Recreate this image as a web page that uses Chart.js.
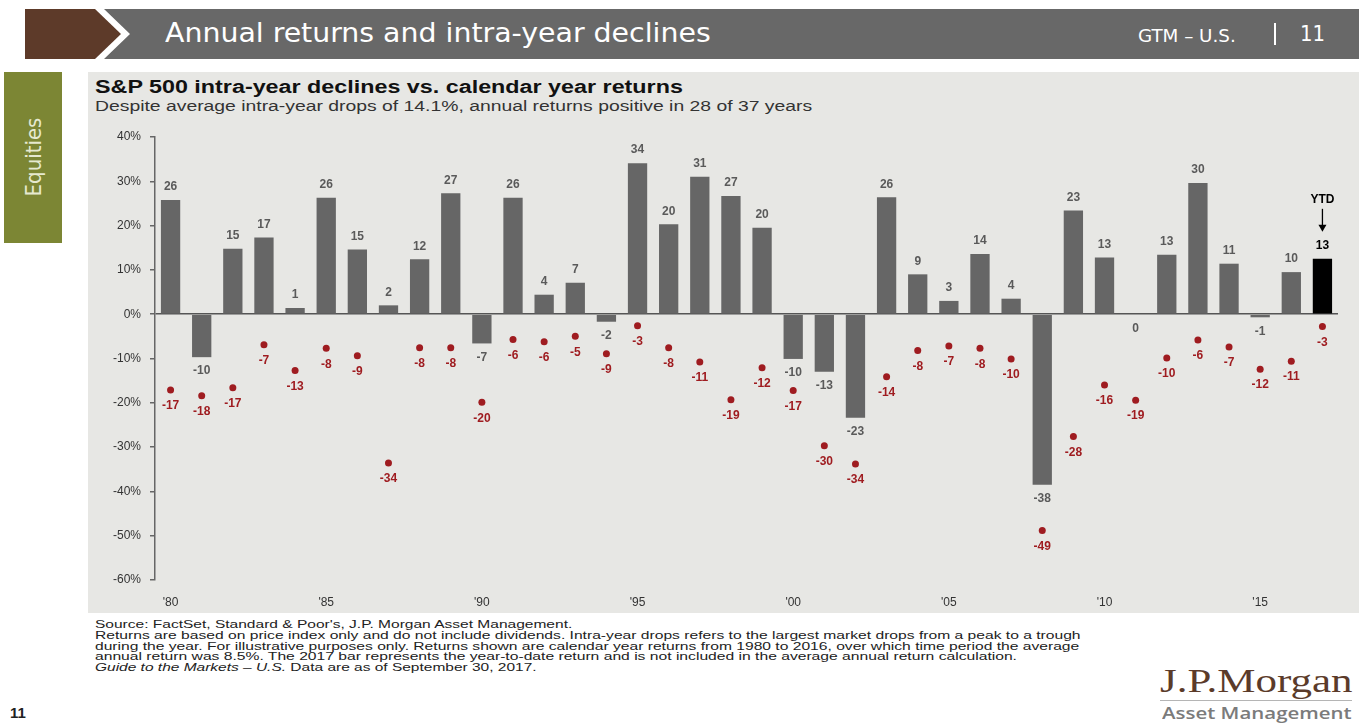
<!DOCTYPE html>
<html>
<head>
<meta charset="utf-8">
<script src="https://cdn.jsdelivr.net/npm/chart.js@4.4.1/dist/chart.umd.min.js"></script>
<style>
  body { margin: 0; width: 1359px; height: 723px; background: #fff; position: relative; overflow: hidden; font-family: "Liberation Sans", Arial, sans-serif; }
  .abs { position: absolute; white-space: nowrap; }
  .fit { display: inline-block; transform-origin: 0 50%; }
  #brown { left: 25px; top: 9px; width: 100px; height: 50px; background: #5d3a29; clip-path: polygon(0 0, 70px 0, 96px 25px, 70px 50px, 0 50px); }
  #band { left: 104px; top: 9px; width: 1255px; height: 50px; background: #686868; clip-path: polygon(0 0, 100% 0, 100% 100%, 0 100%, 26px 25px); }
  #panel { left: 88px; top: 72px; width: 1271px; height: 541px; background: #e7e7e4; }
  #tab { left: 4px; top: 72px; width: 58px; height: 171px; background: #7c8634; }
  #tabTxt { left: 33px; top: 157px; transform: translate(-50%, -50%) rotate(-90deg); color: #e6e9cf; font: 22px "Liberation Sans Narrow", "DejaVu Sans Condensed", sans-serif; }
  canvas { position: absolute; left: 88px; top: 120px; }
  .foot { font-size: 11px; color: #222; line-height: 11px; }
</style>
</head>
<body>
<div id="brown" class="abs"></div>
<div id="band" class="abs"></div>
<div class="abs" style="left:165px;top:18px;color:#fff;font:26px 'Liberation Sans Narrow','DejaVu Sans Condensed',sans-serif;line-height:30px;"><span class="fit" id="hdrTitle">Annual returns and intra-year declines</span></div>
<div class="abs" style="left:1138px;top:26px;color:#fff;font:17px 'Liberation Sans Narrow','DejaVu Sans Condensed',sans-serif;line-height:20px;"><span class="fit" id="hdrGtm">GTM – U.S.</span></div>
<div class="abs" style="left:1274px;top:23px;width:2px;height:22px;background:#fff;"></div>
<div class="abs" style="left:1300px;top:21px;color:#fff;font:21px 'Liberation Sans Narrow','DejaVu Sans Condensed',sans-serif;line-height:26px;"><span class="fit" id="hdrNum">11</span></div>

<div id="tab" class="abs"></div>
<div id="tabTxt" class="abs">Equities</div>
<div id="panel" class="abs"></div>

<div class="abs" style="left:95px;top:77px;font-weight:bold;font-size:18px;line-height:20px;color:#111;"><span class="fit" id="cTitle">S&amp;P 500 intra-year declines vs. calendar year returns</span></div>
<div class="abs" style="left:95px;top:98px;font-size:14px;line-height:16px;color:#333;"><span class="fit" id="cSub">Despite average intra-year drops of 14.1%, annual returns positive in 28 of 37 years</span></div>

<canvas id="myChart" width="1271" height="492"></canvas>

<div class="abs foot" style="left:95px;top:619px;"><span class="fit" id="f1">Source: FactSet, Standard &amp; Poor's, J.P. Morgan Asset Management.</span></div>
<div class="abs foot" style="left:95px;top:630px;"><span class="fit" id="f2">Returns are based on price index only and do not include dividends. Intra-year drops refers to the largest market drops from a peak to a trough</span></div>
<div class="abs foot" style="left:95px;top:641px;"><span class="fit" id="f3">during the year. For illustrative purposes only. Returns shown are calendar year returns from 1980 to 2016, over which time period the average</span></div>
<div class="abs foot" style="left:95px;top:651px;"><span class="fit" id="f4">annual return was 8.5%. The 2017 bar represents the year-to-date return and is not included in the average annual return calculation.</span></div>
<div class="abs foot" style="left:95px;top:662px;"><span class="fit" id="f5"><i>Guide to the Markets – U.S.</i> Data are as of September 30, 2017.</span></div>

<div class="abs" style="left:10px;top:704px;font-size:15px;font-weight:bold;color:#222;line-height:17px;">11</div>

<div class="abs" style="left:1160px;top:664px;font:34px 'Liberation Serif','DejaVu Serif',serif;color:#5b3b2a;line-height:34px;"><span class="fit" id="logo1">J.P.Morgan</span></div>
<div class="abs" style="left:1160px;top:700px;width:192px;height:1px;background:#b5b5b5;"></div>
<div class="abs" style="left:1162px;top:703px;font:600 17px 'Open Sans',sans-serif;color:#7b7b7b;line-height:19px;"><span class="fit" id="logo2">Asset Management</span></div>

<script>
// fit header / footer texts to the widths in the reference
function fit(id, w) {
    let el = document.getElementById(id);
    el.style.transform = "scaleX(" + (w / el.offsetWidth) + ")";
}
fit("hdrTitle", 546);
fit("hdrGtm", 98);
fit("hdrNum", 25);
fit("cTitle", 588);
fit("cSub", 717);
fit("f1", 477);
fit("f2", 985);
fit("f3", 984);
fit("f4", 922);
fit("f5", 442);
fit("logo1", 192);
fit("logo2", 190);

// data
let years = [1980, 1981, 1982, 1983, 1984, 1985, 1986, 1987, 1988, 1989,
             1990, 1991, 1992, 1993, 1994, 1995, 1996, 1997, 1998, 1999,
             2000, 2001, 2002, 2003, 2004, 2005, 2006, 2007, 2008, 2009,
             2010, 2011, 2012, 2013, 2014, 2015, 2016, 2017];
let annualReturns = [25.8, -9.7, 14.8, 17.3, 1.4, 26.3, 14.6, 2.0, 12.4, 27.3,
                     -6.6, 26.3, 4.4, 7.1, -1.7, 34.1, 20.3, 31.0, 26.7, 19.5,
                     -10.1, -13.0, -23.4, 26.4, 9.0, 3.0, 13.6, 3.5, -38.5, 23.4,
                     12.8, 0.0, 13.4, 29.6, 11.4, -0.7, 9.5, 12.5];
let intraYearDrops = [-17.1, -18.4, -16.6, -6.9, -12.7, -7.7, -9.4, -33.6, -7.6, -7.6,
                      -19.9, -5.7, -6.2, -5.0, -8.9, -2.6, -7.6, -10.8, -19.3, -12.1,
                      -17.2, -29.7, -33.8, -14.1, -8.2, -7.2, -7.7, -10.1, -48.8, -27.6,
                      -16.0, -19.4, -9.9, -5.8, -7.4, -12.4, -10.6, -2.8];
let yTicks = [-60, -50, -40, -30, -20, -10, 0, 10, 20, 30, 40];
let ytdIndex = 37;

let barColors = years.map((y, i) => i === ytdIndex ? "#000000" : "#666666");
let dotRed = "#9f1c20";

// value labels for bars and dots + YTD arrow
let labelPlugin = {
    id: "labels",
    afterDatasetsDraw(chart) {
        let ctx = chart.ctx;
        ctx.save();
        ctx.textAlign = "center";
        ctx.textBaseline = "middle";
        ctx.font = "bold 12px 'Liberation Sans', Arial, sans-serif";

        let bars = chart.getDatasetMeta(0).data;
        bars.forEach((bar, i) => {
            let v = annualReturns[i];
            let txt = String(Math.round(v));
            ctx.fillStyle = i === ytdIndex ? "#000" : "#5a5a5a";
            if (v > 0) ctx.fillText(txt, bar.x, bar.y - 13);
            else ctx.fillText(txt, bar.x, bar.y + 14);
        });

        let dots = chart.getDatasetMeta(1).data;
        ctx.fillStyle = dotRed;
        dots.forEach((pt, i) => {
            ctx.fillText(String(Math.round(intraYearDrops[i])), pt.x, pt.y + 16);
        });

        // YTD marker
        let b = bars[ytdIndex];
        ctx.fillStyle = "#000";
        ctx.font = "bold 12px 'Liberation Sans', Arial, sans-serif";
        ctx.fillText("YTD", b.x, b.y - 59);
        ctx.strokeStyle = "#000";
        ctx.lineWidth = 1.3;
        ctx.beginPath();
        ctx.moveTo(b.x, b.y - 50);
        ctx.lineTo(b.x, b.y - 30);
        ctx.stroke();
        ctx.beginPath();
        ctx.moveTo(b.x - 4, b.y - 34);
        ctx.lineTo(b.x + 4, b.y - 34);
        ctx.lineTo(b.x, b.y - 27);
        ctx.closePath();
        ctx.fill();
        ctx.restore();
    }
};

Chart.defaults.font.family = "'Liberation Sans', Arial, sans-serif";

let ctx = document.getElementById("myChart").getContext("2d");
let myChart = new Chart(ctx, {
    type: "bar",
    data: {
        labels: years,
        datasets: [{
            label: "Calendar year return",
            data: annualReturns,
            backgroundColor: barColors,
            barPercentage: 0.62,
            categoryPercentage: 1.0,
            order: 2
        }, {
            type: "line",
            label: "Intra-year decline",
            data: intraYearDrops,
            showLine: false,
            pointRadius: 3.5,
            pointBackgroundColor: dotRed,
            pointBorderWidth: 0,
            order: 1
        }]
    },
    options: {
        responsive: false,
        animation: false,
        layout: { padding: { top: 17, right: 21, left: 0, bottom: 0 } },
        plugins: {
            legend: { display: false },
            tooltip: { enabled: false }
        },
        scales: {
            x: {
                grid: { display: false },
                border: { display: false },
                ticks: {
                    autoSkip: false,
                    maxRotation: 0,
                    padding: 7,
                    color: "#333",
                    font: { size: 12 },
                    callback: (v, i) => i % 5 === 0 ? "'" + String(years[i]).slice(2) : ""
                },
                afterFit: (scale) => { scale.height = 32; }
            },
            y: {
                min: -60,
                max: 40,
                afterBuildTicks: (scale) => { scale.ticks = yTicks.map(v => ({ value: v })); },
                grid: {
                    drawOnChartArea: true,
                    color: (c) => c.tick && c.tick.value === 0 ? "#555" : "rgba(0,0,0,0)",
                    lineWidth: 1.5,
                    tickColor: "#666",
                    tickLength: 5
                },
                border: { display: true, color: "#666", width: 1.5 },
                ticks: {
                    padding: 9,
                    color: "#333",
                    font: { size: 12 },
                    callback: (v) => v + "%"
                },
                afterFit: (scale) => { scale.width = 67; }
            }
        }
    },
    plugins: [labelPlugin]
});
</script>
</body>
</html>
